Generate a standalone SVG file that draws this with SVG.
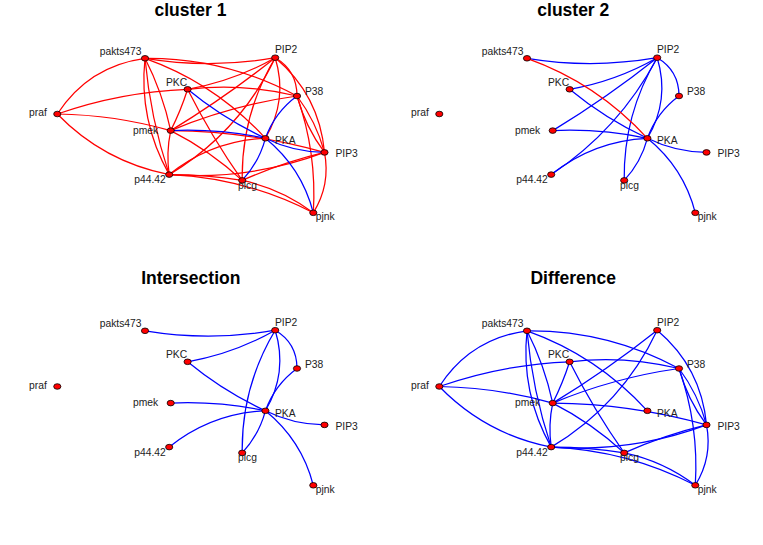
<svg xmlns="http://www.w3.org/2000/svg" width="763" height="545" viewBox="0 0 763 545">
<style>
.e path{fill:none;stroke-width:1.25}
.r{stroke:#ff0000}
.b{stroke:#0000ff}
.n ellipse{fill:#ff0000;stroke:#000;stroke-width:0.8}
.n text{font-family:"Liberation Sans",Arial,sans-serif;font-size:10.3px;fill:#222}
.t{font-family:"Liberation Sans",Arial,sans-serif;font-size:17.5px;font-weight:bold;text-anchor:middle;fill:#000}
</style>
<rect width="763" height="545" fill="#fff"/>
<text class="t" x="190.5" y="16">cluster 1</text>
<text class="t" x="573.3" y="16">cluster 2</text>
<text class="t" x="190.8" y="284">Intersection</text>
<text class="t" x="573.2" y="284">Difference</text>

<!-- cluster 1 -->
<g id="panel-c1">
<g id="c1-edges" class="e">
<path class="r" d="M57.3 114 Q88.45 66.05 145 58.3"/>
<path class="r" d="M57.3 114 Q120.75 91.75 187.6 89.3"/>
<path class="r" d="M187.6 89.3 Q241.7 82.55 297 96"/>
<path class="r" d="M57.3 114 Q115 114.9 170.7 130.6"/>
<path class="r" d="M57.3 114 Q103.55 161.7 169.2 174.6"/>
<path class="r" d="M170.7 130.6 Q249 131.1 324.5 152.4"/>
<path class="r" d="M145 58.3 Q225.8 57.45 297 96"/>
<path class="r" d="M145 58.3 Q215.2 83.3 265.4 138.3"/>
<path class="r" d="M145 58.3 Q162.55 92.75 170.7 130.6"/>
<path class="r" d="M145 58.3 Q138.5 120.15 169.2 174.6"/>
<path class="r" d="M145 58.3 Q150.3 117.95 169.2 174.6"/>
<path class="r" d="M187.6 89.3 Q180.85 110.65 170.7 130.6"/>
<path class="r" d="M187.6 89.3 Q211.5 136.95 242.2 180.4"/>
<path class="r" d="M170.7 130.6 Q231.55 105.2 297 96"/>
<path class="r" d="M170.7 130.6 Q225.25 97.45 275.2 57.7"/>
<path class="r" d="M169.2 174.6 Q240 132.25 275.2 57.7"/>
<path class="r" d="M170.7 130.6 Q166.05 152.6 169.2 174.6"/>
<path class="r" d="M170.7 130.6 Q209.95 150.5 242.2 180.4"/>
<path class="r" d="M275.2 57.7 Q319.35 94.95 324.5 152.4"/>
<path class="r" d="M297 96 Q305.35 126.8 324.5 152.4"/>
<path class="r" d="M297 96 Q316.15 121.6 324.5 152.4"/>
<path class="r" d="M297 96 Q317.05 152.8 313.3 212.8"/>
<path class="r" d="M324.5 152.4 Q330.7 184.8 313.3 212.8"/>
<path class="r" d="M169.2 174.6 Q249.35 180.5 324.5 152.4"/>
<path class="r" d="M242.2 180.4 Q282.05 162.6 324.5 152.4"/>
<path class="r" d="M169.2 174.6 Q206.1 174.5 242.2 180.4"/>
<path class="r" d="M169.2 174.6 Q245.55 177.7 313.3 212.8"/>
<path class="r" d="M242.2 180.4 Q281.25 188.6 313.3 212.8"/>
<path class="r" d="M145 58.3 Q209.9 69 275.2 57.7"/>
<path class="r" d="M187.6 89.3 Q234.2 81.1 275.2 57.7"/>
<path class="r" d="M169.2 174.6 Q211.3 140.75 265.4 138.3"/>
<path class="r" d="M242.2 180.4 Q241.3 114.35 275.2 57.7"/>
<path class="r" d="M275.2 57.7 Q297 70.5 297 96"/>
<path class="r" d="M275.2 57.7 Q288.1 100 265.4 138.3"/>
<path class="b" d="M187.6 89.3 Q223.3 118.8 265.4 138.3"/>
<path class="b" d="M170.7 130.6 Q218.55 128.45 265.4 138.3"/>
<path class="b" d="M242.2 180.4 Q259 162.3 265.4 138.3"/>
<path class="b" d="M297 96 Q274.8 112.3 265.4 138.3"/>
<path class="b" d="M265.4 138.3 Q293.3 152.15 324.5 152.4"/>
<path class="b" d="M265.4 138.3 Q301.7 167.7 313.3 212.8"/>
</g>
<g id="c1-pakts473" class="n"><ellipse cx="145" cy="58.3" rx="3.6" ry="2.8"/><text x="141.5" y="54.5" text-anchor="end">pakts473</text></g>
<g id="c1-PIP2" class="n"><ellipse cx="275.2" cy="57.7" rx="3.6" ry="2.8"/><text x="275" y="53.3">PIP2</text></g>
<g id="c1-PKC" class="n"><ellipse cx="187.6" cy="89.3" rx="3.6" ry="2.8"/><text x="166" y="85.7">PKC</text></g>
<g id="c1-P38" class="n"><ellipse cx="297" cy="96" rx="3.6" ry="2.8"/><text x="305" y="95">P38</text></g>
<g id="c1-praf" class="n"><ellipse cx="57.3" cy="114" rx="3.6" ry="2.8"/><text x="29" y="116">praf</text></g>
<g id="c1-pmek" class="n"><ellipse cx="170.7" cy="130.6" rx="3.6" ry="2.8"/><text x="133" y="133.5">pmek</text></g>
<g id="c1-PKA" class="n"><ellipse cx="265.4" cy="138.3" rx="3.6" ry="2.8"/><text x="275" y="144">PKA</text></g>
<g id="c1-PIP3" class="n"><ellipse cx="324.5" cy="152.4" rx="3.6" ry="2.8"/><text x="335.5" y="157.3">PIP3</text></g>
<g id="c1-p44.42" class="n"><ellipse cx="169.2" cy="174.6" rx="3.6" ry="2.8"/><text x="134.3" y="183.3">p44.42</text></g>
<g id="c1-plcg" class="n"><ellipse cx="242.2" cy="180.4" rx="3.6" ry="2.8"/><text x="238" y="188.5">plcg</text></g>
<g id="c1-pjnk" class="n"><ellipse cx="313.3" cy="212.8" rx="3.6" ry="2.8"/><text x="315.7" y="220">pjnk</text></g>
</g>

<!-- cluster 2 -->
<g id="panel-c2" transform="translate(382,0)">
<g id="c2-edges" class="e">
<path class="b" d="M145 58.3 Q209.9 69 275.2 57.7"/>
<path class="b" d="M187.6 89.3 Q234.2 81.1 275.2 57.7"/>
<path class="b" d="M187.6 89.3 Q223.3 118.8 265.4 138.3"/>
<path class="b" d="M170.7 130.6 Q218.55 128.45 265.4 138.3"/>
<path class="b" d="M169.2 174.6 Q211.3 140.75 265.4 138.3"/>
<path class="b" d="M242.2 180.4 Q241.3 114.35 275.2 57.7"/>
<path class="b" d="M242.2 180.4 Q259 162.3 265.4 138.3"/>
<path class="b" d="M275.2 57.7 Q297 70.5 297 96"/>
<path class="b" d="M275.2 57.7 Q288.1 100 265.4 138.3"/>
<path class="b" d="M297 96 Q274.8 112.3 265.4 138.3"/>
<path class="b" d="M265.4 138.3 Q293.3 152.15 324.5 152.4"/>
<path class="b" d="M265.4 138.3 Q301.7 167.7 313.3 212.8"/>
<path class="b" d="M170.7 130.6 Q225.25 97.45 275.2 57.7"/>
<path class="b" d="M169.2 174.6 Q237 129.65 275.2 57.7"/>
<path class="r" d="M145 58.3 Q215.2 83.3 265.4 138.3"/>
</g>
<g id="c2-pakts473" class="n"><ellipse cx="145" cy="58.3" rx="3.6" ry="2.8"/><text x="141.5" y="54.5" text-anchor="end">pakts473</text></g>
<g id="c2-PIP2" class="n"><ellipse cx="275.2" cy="57.7" rx="3.6" ry="2.8"/><text x="275" y="53.3">PIP2</text></g>
<g id="c2-PKC" class="n"><ellipse cx="187.6" cy="89.3" rx="3.6" ry="2.8"/><text x="166" y="85.7">PKC</text></g>
<g id="c2-P38" class="n"><ellipse cx="297" cy="96" rx="3.6" ry="2.8"/><text x="305" y="95">P38</text></g>
<g id="c2-praf" class="n"><ellipse cx="57.3" cy="114" rx="3.6" ry="2.8"/><text x="29" y="116">praf</text></g>
<g id="c2-pmek" class="n"><ellipse cx="170.7" cy="130.6" rx="3.6" ry="2.8"/><text x="133" y="133.5">pmek</text></g>
<g id="c2-PKA" class="n"><ellipse cx="265.4" cy="138.3" rx="3.6" ry="2.8"/><text x="275" y="144">PKA</text></g>
<g id="c2-PIP3" class="n"><ellipse cx="324.5" cy="152.4" rx="3.6" ry="2.8"/><text x="335.5" y="157.3">PIP3</text></g>
<g id="c2-p44.42" class="n"><ellipse cx="169.2" cy="174.6" rx="3.6" ry="2.8"/><text x="134.3" y="183.3">p44.42</text></g>
<g id="c2-plcg" class="n"><ellipse cx="242.2" cy="180.4" rx="3.6" ry="2.8"/><text x="238" y="188.5">plcg</text></g>
<g id="c2-pjnk" class="n"><ellipse cx="313.3" cy="212.8" rx="3.6" ry="2.8"/><text x="315.7" y="220">pjnk</text></g>
</g>

<!-- Intersection -->
<g id="panel-int" transform="translate(0,272.5)">
<g id="int-edges" class="e">
<path class="b" d="M145 58.3 Q209.9 69 275.2 57.7"/>
<path class="b" d="M187.6 89.3 Q234.2 81.1 275.2 57.7"/>
<path class="b" d="M187.6 89.3 Q223.3 118.8 265.4 138.3"/>
<path class="b" d="M170.7 130.6 Q218.55 128.45 265.4 138.3"/>
<path class="b" d="M169.2 174.6 Q211.3 140.75 265.4 138.3"/>
<path class="b" d="M242.2 180.4 Q241.3 114.35 275.2 57.7"/>
<path class="b" d="M242.2 180.4 Q259 162.3 265.4 138.3"/>
<path class="b" d="M275.2 57.7 Q297 70.5 297 96"/>
<path class="b" d="M275.2 57.7 Q288.1 100 265.4 138.3"/>
<path class="b" d="M297 96 Q274.8 112.3 265.4 138.3"/>
<path class="b" d="M265.4 138.3 Q293.3 152.15 324.5 152.4"/>
<path class="b" d="M265.4 138.3 Q301.7 167.7 313.3 212.8"/>
</g>
<g id="int-pakts473" class="n"><ellipse cx="145" cy="58.3" rx="3.6" ry="2.8"/><text x="141.5" y="54.5" text-anchor="end">pakts473</text></g>
<g id="int-PIP2" class="n"><ellipse cx="275.2" cy="57.7" rx="3.6" ry="2.8"/><text x="275" y="53.3">PIP2</text></g>
<g id="int-PKC" class="n"><ellipse cx="187.6" cy="89.3" rx="3.6" ry="2.8"/><text x="166" y="85.7">PKC</text></g>
<g id="int-P38" class="n"><ellipse cx="297" cy="96" rx="3.6" ry="2.8"/><text x="305" y="95">P38</text></g>
<g id="int-praf" class="n"><ellipse cx="57.3" cy="114" rx="3.6" ry="2.8"/><text x="29" y="116">praf</text></g>
<g id="int-pmek" class="n"><ellipse cx="170.7" cy="130.6" rx="3.6" ry="2.8"/><text x="133" y="133.5">pmek</text></g>
<g id="int-PKA" class="n"><ellipse cx="265.4" cy="138.3" rx="3.6" ry="2.8"/><text x="275" y="144">PKA</text></g>
<g id="int-PIP3" class="n"><ellipse cx="324.5" cy="152.4" rx="3.6" ry="2.8"/><text x="335.5" y="157.3">PIP3</text></g>
<g id="int-p44.42" class="n"><ellipse cx="169.2" cy="174.6" rx="3.6" ry="2.8"/><text x="134.3" y="183.3">p44.42</text></g>
<g id="int-plcg" class="n"><ellipse cx="242.2" cy="180.4" rx="3.6" ry="2.8"/><text x="238" y="188.5">plcg</text></g>
<g id="int-pjnk" class="n"><ellipse cx="313.3" cy="212.8" rx="3.6" ry="2.8"/><text x="315.7" y="220">pjnk</text></g>
</g>

<!-- Difference -->
<g id="panel-diff" transform="translate(382,272.5)">
<g id="diff-edges" class="e">
<path class="b" d="M57.3 114 Q88.45 66.05 145 58.3"/>
<path class="b" d="M57.3 114 Q120.75 91.75 187.6 89.3"/>
<path class="b" d="M187.6 89.3 Q241.7 82.55 297 96"/>
<path class="b" d="M57.3 114 Q115 114.9 170.7 130.6"/>
<path class="b" d="M57.3 114 Q103.55 161.7 169.2 174.6"/>
<path class="b" d="M170.7 130.6 Q249 131.1 324.5 152.4"/>
<path class="b" d="M145 58.3 Q225.8 57.45 297 96"/>
<path class="b" d="M145 58.3 Q215.2 83.3 265.4 138.3"/>
<path class="b" d="M145 58.3 Q162.55 92.75 170.7 130.6"/>
<path class="b" d="M145 58.3 Q138.5 120.15 169.2 174.6"/>
<path class="b" d="M145 58.3 Q150.3 117.95 169.2 174.6"/>
<path class="b" d="M187.6 89.3 Q180.85 110.65 170.7 130.6"/>
<path class="b" d="M187.6 89.3 Q211.5 136.95 242.2 180.4"/>
<path class="b" d="M170.7 130.6 Q231.55 105.2 297 96"/>
<path class="b" d="M170.7 130.6 Q225.25 97.45 275.2 57.7"/>
<path class="b" d="M169.2 174.6 Q240 132.25 275.2 57.7"/>
<path class="b" d="M170.7 130.6 Q166.05 152.6 169.2 174.6"/>
<path class="b" d="M170.7 130.6 Q209.95 150.5 242.2 180.4"/>
<path class="b" d="M275.2 57.7 Q319.35 94.95 324.5 152.4"/>
<path class="b" d="M297 96 Q305.35 126.8 324.5 152.4"/>
<path class="b" d="M297 96 Q316.15 121.6 324.5 152.4"/>
<path class="b" d="M297 96 Q317.05 152.8 313.3 212.8"/>
<path class="b" d="M324.5 152.4 Q330.7 184.8 313.3 212.8"/>
<path class="b" d="M169.2 174.6 Q249.35 180.5 324.5 152.4"/>
<path class="b" d="M242.2 180.4 Q282.05 162.6 324.5 152.4"/>
<path class="b" d="M169.2 174.6 Q206.1 174.5 242.2 180.4"/>
<path class="b" d="M169.2 174.6 Q245.55 177.7 313.3 212.8"/>
<path class="b" d="M242.2 180.4 Q281.25 188.6 313.3 212.8"/>
</g>
<g id="diff-pakts473" class="n"><ellipse cx="145" cy="58.3" rx="3.6" ry="2.8"/><text x="141.5" y="54.5" text-anchor="end">pakts473</text></g>
<g id="diff-PIP2" class="n"><ellipse cx="275.2" cy="57.7" rx="3.6" ry="2.8"/><text x="275" y="53.3">PIP2</text></g>
<g id="diff-PKC" class="n"><ellipse cx="187.6" cy="89.3" rx="3.6" ry="2.8"/><text x="166" y="85.7">PKC</text></g>
<g id="diff-P38" class="n"><ellipse cx="297" cy="96" rx="3.6" ry="2.8"/><text x="305" y="95">P38</text></g>
<g id="diff-praf" class="n"><ellipse cx="57.3" cy="114" rx="3.6" ry="2.8"/><text x="29" y="116">praf</text></g>
<g id="diff-pmek" class="n"><ellipse cx="170.7" cy="130.6" rx="3.6" ry="2.8"/><text x="133" y="133.5">pmek</text></g>
<g id="diff-PKA" class="n"><ellipse cx="265.4" cy="138.3" rx="3.6" ry="2.8"/><text x="275" y="144">PKA</text></g>
<g id="diff-PIP3" class="n"><ellipse cx="324.5" cy="152.4" rx="3.6" ry="2.8"/><text x="335.5" y="157.3">PIP3</text></g>
<g id="diff-p44.42" class="n"><ellipse cx="169.2" cy="174.6" rx="3.6" ry="2.8"/><text x="134.3" y="183.3">p44.42</text></g>
<g id="diff-plcg" class="n"><ellipse cx="242.2" cy="180.4" rx="3.6" ry="2.8"/><text x="238" y="188.5">plcg</text></g>
<g id="diff-pjnk" class="n"><ellipse cx="313.3" cy="212.8" rx="3.6" ry="2.8"/><text x="315.7" y="220">pjnk</text></g>
</g>
</svg>
